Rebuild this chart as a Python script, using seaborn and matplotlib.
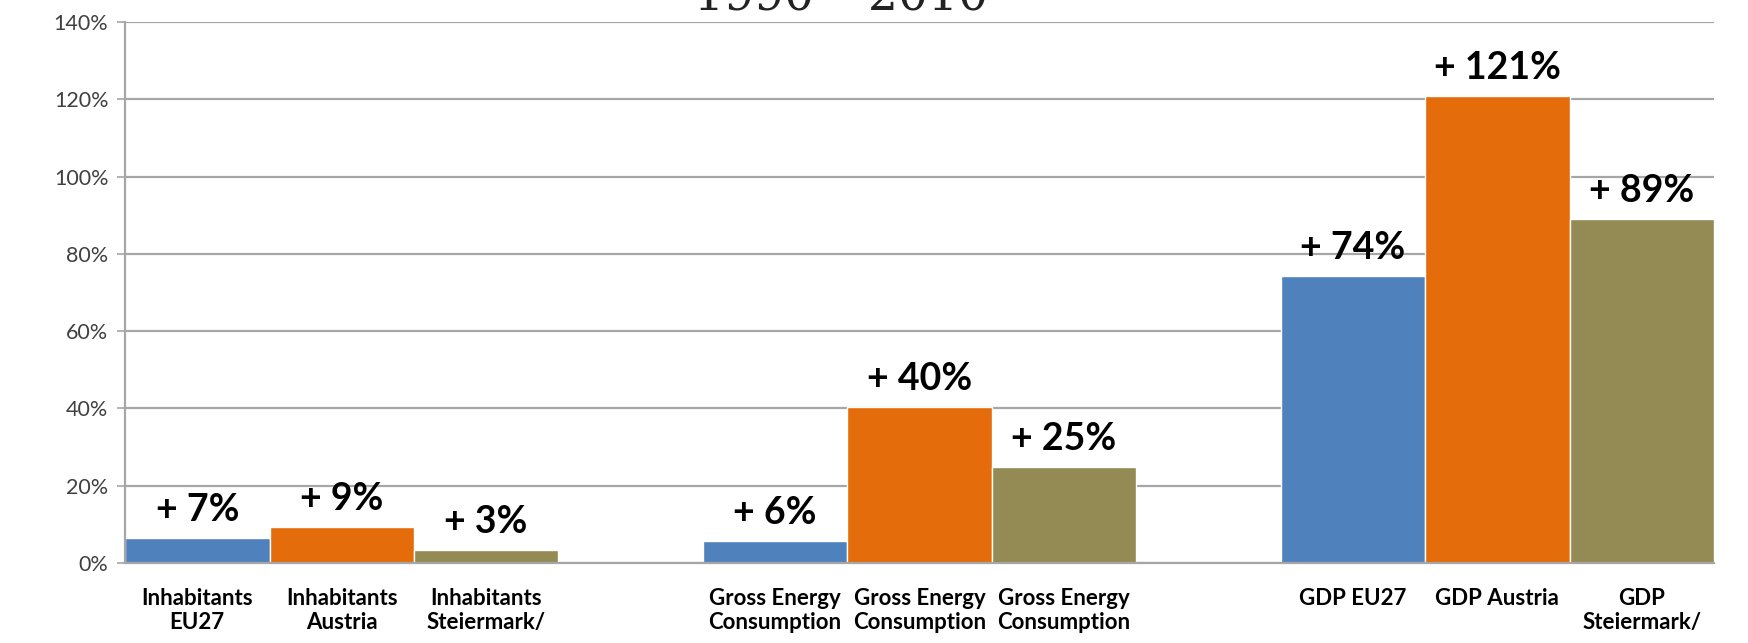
import pandas as pd
import numpy as np
import matplotlib.pyplot as plt
import seaborn as sns

# data (growth 1990 - 2010, in %)
slots = ['inh_eu', 'inh_at', 'inh_st', 'gap1',
         'en_eu', 'en_at', 'en_st', 'gap2',
         'gdp_eu', 'gdp_at', 'gdp_st']
categories = ['inh_eu', 'inh_at', 'inh_st',
              'en_eu', 'en_at', 'en_st',
              'gdp_eu', 'gdp_at', 'gdp_st']
values = [6.5, 9.3, 3.4, 5.6, 40.3, 24.8, 74.3, 120.8, 89.0]
value_labels = ['+ 7%', '+ 9%', '+ 3%', '+ 6%', '+ 40%', '+ 25%',
                '+ 74%', '+ 121%', '+ 89%']
tick_labels = ['Inhabitants\nEU27', 'Inhabitants\nAustria', 'Inhabitants\nSteiermark/', '',
               'Gross Energy\nConsumption', 'Gross Energy\nConsumption', 'Gross Energy\nConsumption', '',
               'GDP EU27', 'GDP Austria', 'GDP\nSteiermark/']
region = ['EU27', 'Austria', 'Steiermark'] * 3
title = '1990 – 2010'

colors = {'EU27': '#4F81BD', 'Austria': '#E46C0A', 'Steiermark': '#948A54'}

df = pd.DataFrame({'slot': categories, 'value': values, 'region': region})

sns.set_style('white')
plt.rcParams['font.family'] = ['Lato', 'DejaVu Sans']

fig = plt.figure(figsize=(17.49, 6.43), dpi=100)
ax = fig.add_axes([0.0715, 0.1244, 0.9085, 0.8414])

sns.barplot(data=df, x='slot', y='value', hue='region', order=slots,
            palette=colors, width=1.0, dodge=False, legend=False,
            saturation=1, ax=ax)

ax.set_ylim(0, 140)
ax.set_xlim(-0.5, len(slots) - 0.5)
ax.set_yticks(np.arange(0, 141, 20))
ax.set_yticklabels([f'{v}%' for v in range(0, 141, 20)], fontsize=15.5, color='#404040')
ax.yaxis.grid(True, color='#A6A6A6', linewidth=1.6)
ax.set_axisbelow(True)

ax.set_xticks(range(len(slots)))
ax.set_xticklabels(tick_labels, fontsize=16, fontweight='bold', color='black',
                   linespacing=1.15)
ax.tick_params(axis='x', length=0, pad=18)
ax.set_xticks(np.arange(-0.5, len(slots), 1), minor=True)
ax.tick_params(axis='x', which='minor', length=6, color='#A6A6A6', width=1.2, direction='out')
ax.tick_params(axis='y', length=6, color='#A6A6A6', width=1.2, direction='out', left=True, pad=6)

for side in ['top', 'right']:
    ax.spines[side].set_visible(False)
for side in ['left', 'bottom']:
    ax.spines[side].set_color('#A6A6A6')
    ax.spines[side].set_linewidth(1.6)
ax.set_xlabel('')
ax.set_ylabel('')

# value labels above the bars
for cat, val, lab in zip(categories, values, value_labels):
    ax.annotate(lab, (slots.index(cat), val), xytext=(0, 8), textcoords='offset points',
                ha='center', va='bottom', fontsize=27, fontweight='bold', color='black')

# title sits mostly above the picture, as in the reference
fig.text(0.481, 0.986, title, ha='center', va='baseline', fontsize=34,
         family=['DejaVu Serif'], color='#222222')

fig.savefig('out.png', dpi=100, facecolor='white')
